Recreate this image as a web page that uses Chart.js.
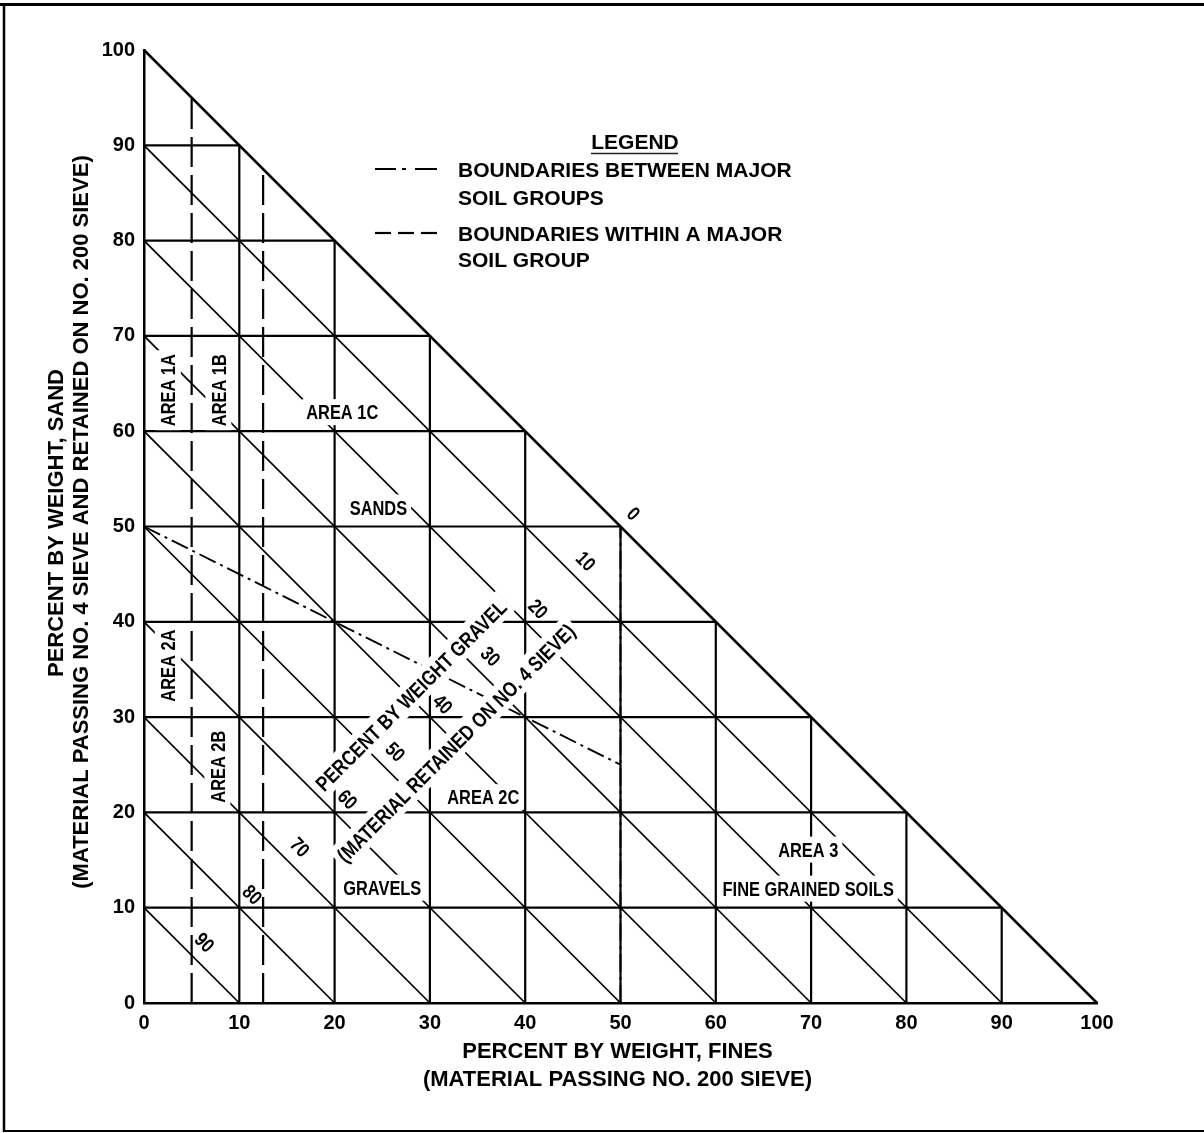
<!DOCTYPE html>
<html>
<head>
<meta charset="utf-8">
<title>Soil classification triangle</title>
<script src="https://cdn.jsdelivr.net/npm/chart.js@4/dist/chart.umd.min.js"></script>
<style>
  html, body { margin: 0; padding: 0; background: #fff; }
  canvas { display: block; }
</style>
</head>
<body>
<canvas id="soilChart" width="1204" height="1133"></canvas>
<script>
// ---- values -------------------------------------------------------------
// Percent levels of the ruled grid (sand rows, fines columns, gravel diagonals)
const sandLevels = [10, 20, 30, 40, 50, 60, 70, 80, 90];
const finesLevels = [10, 20, 30, 40, 50, 60, 70, 80, 90];
const gravelLevels = [10, 20, 30, 40, 50, 60, 70, 80, 90];

// Axis tick values and the gravel percentages written along the diagonals
const axisTicks = [0, 10, 20, 30, 40, 50, 60, 70, 80, 90, 100];
const gravelTickLabels = [0, 10, 20, 30, 40, 50, 60, 70, 80, 90];

// Boundaries within a major soil group (percent fines, dashed verticals)
const subgroupFines = [5, 12.5];

// Boundary between sands and gravels (fines, sand) and the fine-grained limit
const sandGravelFines = [0, 50];
const sandGravelSand = [50, 25];
const fineGrainedFines = 50;

// Area names and where they sit (percent fines, percent sand)
const areaNames = ['AREA 1A', 'AREA 1B', 'AREA 1C', 'SANDS', 'AREA 2A', 'AREA 2B',
                   'AREA 2C', 'GRAVELS', 'AREA 3', 'FINE GRAINED SOILS'];
const areaFines = [2.5, 7.8, 20.8, 24.6, 2.5, 7.7, 35.6, 25.0, 69.7, 69.7];
const areaSand = [64.3, 64.3, 62.0, 52.0, 35.4, 24.8, 21.6, 12.1, 16.1, 12.0];

// Gravel axis title (two lines running across the diagonals)
const gravelTitle = ['PERCENT BY WEIGHT GRAVEL', '(MATERIAL RETAINED ON NO. 4 SIEVE)'];
const gravelTitleFines = [28.0, 32.7];
const gravelTitleSand = [32.3, 27.3];

const xTitle = ['PERCENT BY WEIGHT, FINES', '(MATERIAL PASSING NO. 200 SIEVE)'];
const yTitle = ['PERCENT BY WEIGHT, SAND', '(MATERIAL PASSING NO. 4 SIEVE AND RETAINED ON NO. 200 SIEVE)'];
const legendTitle = 'LEGEND';
const legendLines = [['BOUNDARIES BETWEEN MAJOR', 'SOIL GROUPS'],
                     ['BOUNDARIES WITHIN A MAJOR', 'SOIL GROUP']];

// ---- styles -------------------------------------------------------------
const FONT = '"Liberation Sans", Arial, Helvetica, sans-serif';
const INK = '#000';
const DASH = [30, 8];
const DASH_DOT = [18, 5, 3, 5];
const NARROW = 0.82;

function rule(points, width, dash) {
  return {
    data: points,
    showLine: true,
    borderColor: INK,
    borderWidth: width,
    borderDash: dash || [],
    pointRadius: 0,
    pointHoverRadius: 0,
    fill: false,
    tension: 0,
    clip: false
  };
}

const datasets = [];
// sand rows: from the sand axis to the hypotenuse
sandLevels.forEach(s => datasets.push(rule([{x: 0, y: s}, {x: 100 - s, y: s}], 2.2)));
// fines columns
finesLevels.forEach(f => datasets.push(rule([{x: f, y: 0}, {x: f, y: 100 - f}], 2.2)));
// gravel diagonals: fines + sand = 100 - gravel
gravelLevels.forEach(g => {
  const t = 100 - g;
  datasets.push(rule([{x: 0, y: t}, {x: t, y: 0}], 1.7));
});
// hypotenuse (zero gravel)
datasets.push(rule([{x: 0, y: 100}, {x: 100, y: 0}], 2.5));
// dashed boundaries within a group
subgroupFines.forEach(f => datasets.push(rule([{x: f, y: 0}, {x: f, y: 100 - f}], 2.2, DASH)));
// dash-dot boundaries between major groups
datasets.push(rule(sandGravelFines.map((f, i) => ({x: f, y: sandGravelSand[i]})), 1.9, DASH_DOT));
datasets.push(rule([{x: fineGrainedFines, y: 0}, {x: fineGrainedFines, y: 100 - fineGrainedFines}], 1.9, DASH_DOT));

// ---- text helpers -------------------------------------------------------
function putText(ctx, text, cx, cy, deg, size, squeeze, mask) {
  ctx.save();
  ctx.translate(cx, cy);
  ctx.rotate(deg * Math.PI / 180);
  ctx.font = `bold ${size}px ${FONT}`;
  const w = ctx.measureText(text).width * squeeze;
  if (mask) {
    ctx.fillStyle = '#fff';
    ctx.fillRect(-w / 2 - 4, -size * 0.65, w + 8, size * 1.3);
  }
  ctx.scale(squeeze, 1);
  ctx.fillStyle = INK;
  ctx.textAlign = 'center';
  ctx.textBaseline = 'alphabetic';
  ctx.fillText(text, 0, size * 0.729 / 2);
  ctx.restore();
}

function putLeft(ctx, text, x, cy, size) {
  ctx.save();
  ctx.font = `bold ${size}px ${FONT}`;
  ctx.fillStyle = INK;
  ctx.textAlign = 'left';
  ctx.textBaseline = 'alphabetic';
  ctx.fillText(text, x, cy + size * 0.729 / 2);
  ctx.restore();
}

function hLine(ctx, x1, x2, y, w) {
  ctx.beginPath();
  ctx.moveTo(x1, y);
  ctx.lineTo(x2, y);
  ctx.lineWidth = w;
  ctx.stroke();
}

const diagramText = {
  id: 'diagramText',
  beforeDraw(chart) {
    const ctx = chart.ctx;
    ctx.save();
    ctx.fillStyle = '#fff';
    ctx.fillRect(0, 0, chart.width, chart.height);
    ctx.restore();
  },
  afterDatasetsDraw(chart) {
    const ctx = chart.ctx;
    const xs = chart.scales.x, ys = chart.scales.y;
    const px = v => xs.getPixelForValue(v);
    const py = v => ys.getPixelForValue(v);
    const upright = new Set(['AREA 1A', 'AREA 1B', 'AREA 2A', 'AREA 2B']);

    // area names on white patches
    areaNames.forEach((name, i) => {
      putText(ctx, name, px(areaFines[i]), py(areaSand[i]), upright.has(name) ? -90 : 0, 20, NARROW, true);
    });

    // gravel title across the diagonals
    gravelTitle.forEach((t, i) => {
      putText(ctx, t, px(gravelTitleFines[i]), py(gravelTitleSand[i]), -45, 21, NARROW, true);
    });

    // gravel percentages just above each diagonal
    gravelTickLabels.forEach(g => {
      const m = (100 - g) / 2;
      const cx = px(m) + 13.3, cy = py(m) - 13.3;
      putText(ctx, String(g), cx, cy, 45, 20, NARROW, false);
    });
  },
  afterDraw(chart) {
    const ctx = chart.ctx;
    ctx.save();
    ctx.strokeStyle = INK;
    ctx.fillStyle = INK;

    // axis titles
    const xc = (chart.chartArea.left + chart.chartArea.right) / 2 + 1;
    ctx.textAlign = 'center';
    ctx.font = `bold 22px ${FONT}`;
    ctx.textBaseline = 'alphabetic';
    ctx.fillText(xTitle[0], xc - 4, 1058);
    ctx.fillText(xTitle[1], xc - 4, 1086);
    ctx.save();
    ctx.translate(55, 523);
    ctx.rotate(-Math.PI / 2);
    ctx.fillText(yTitle[0], 0, 8);
    ctx.restore();
    ctx.save();
    ctx.translate(80, 522);
    ctx.rotate(-Math.PI / 2);
    ctx.fillText(yTitle[1], 0, 8);
    ctx.restore();

    // legend
    ctx.font = `bold 21px ${FONT}`;
    ctx.textAlign = 'center';
    ctx.fillText(legendTitle, 635, 141 + 7.6);
    ctx.strokeStyle = '#222';
    hLine(ctx, 591, 678, 153.5, 1.5);
    ctx.strokeStyle = INK;

    // dash-dot sample
    hLine(ctx, 375, 396, 169, 2);
    hLine(ctx, 402, 406, 169, 2);
    hLine(ctx, 415, 437, 169, 2);
    putLeft(ctx, legendLines[0][0], 458, 169, 21);
    putLeft(ctx, legendLines[0][1], 458, 197, 21);
    // dashed sample
    hLine(ctx, 375, 391, 233, 2.2);
    hLine(ctx, 398, 414, 233, 2.2);
    hLine(ctx, 421, 437, 233, 2.2);
    putLeft(ctx, legendLines[1][0], 458, 233, 21);
    putLeft(ctx, legendLines[1][1], 458, 259, 21);

    // page frame (left, top, bottom)
    ctx.lineCap = 'butt';
    hLine(ctx, 0, 1204, 4.5, 3);
    hLine(ctx, 3, 1204, 1131, 2);
    ctx.beginPath();
    ctx.moveTo(4, 3);
    ctx.lineTo(4, 1132);
    ctx.lineWidth = 2.5;
    ctx.stroke();
    ctx.restore();
  }
};

const axisCommon = {
  type: 'linear',
  min: 0,
  max: 100,
  grid: { display: false, drawTicks: false },
  border: { display: true, color: INK, width: 2.5 },
  ticks: {
    stepSize: 10,
    autoSkip: false,
    maxRotation: 0,
    color: INK,
    font: { family: FONT, size: 20, weight: 'bold' },
    callback: v => (axisTicks.includes(v) ? String(v) : '')
  }
};

new Chart(document.getElementById('soilChart'), {
  type: 'scatter',
  data: { datasets },
  options: {
    responsive: false,
    animation: false,
    devicePixelRatio: 1,
    events: [],
    layout: { padding: { left: 0, top: 50, right: 107, bottom: 0 } },
    plugins: { legend: { display: false }, tooltip: { enabled: false } },
    scales: {
      x: Object.assign({}, axisCommon, {
        position: 'bottom',
        ticks: Object.assign({}, axisCommon.ticks, { padding: 8 }),
        afterFit: s => { s.height = 130; }
      }),
      y: Object.assign({}, axisCommon, {
        position: 'left',
        ticks: Object.assign({}, axisCommon.ticks, { padding: 9 }),
        afterFit: s => { s.width = 144; }
      })
    }
  },
  plugins: [diagramText]
});
</script>
</body>
</html>
